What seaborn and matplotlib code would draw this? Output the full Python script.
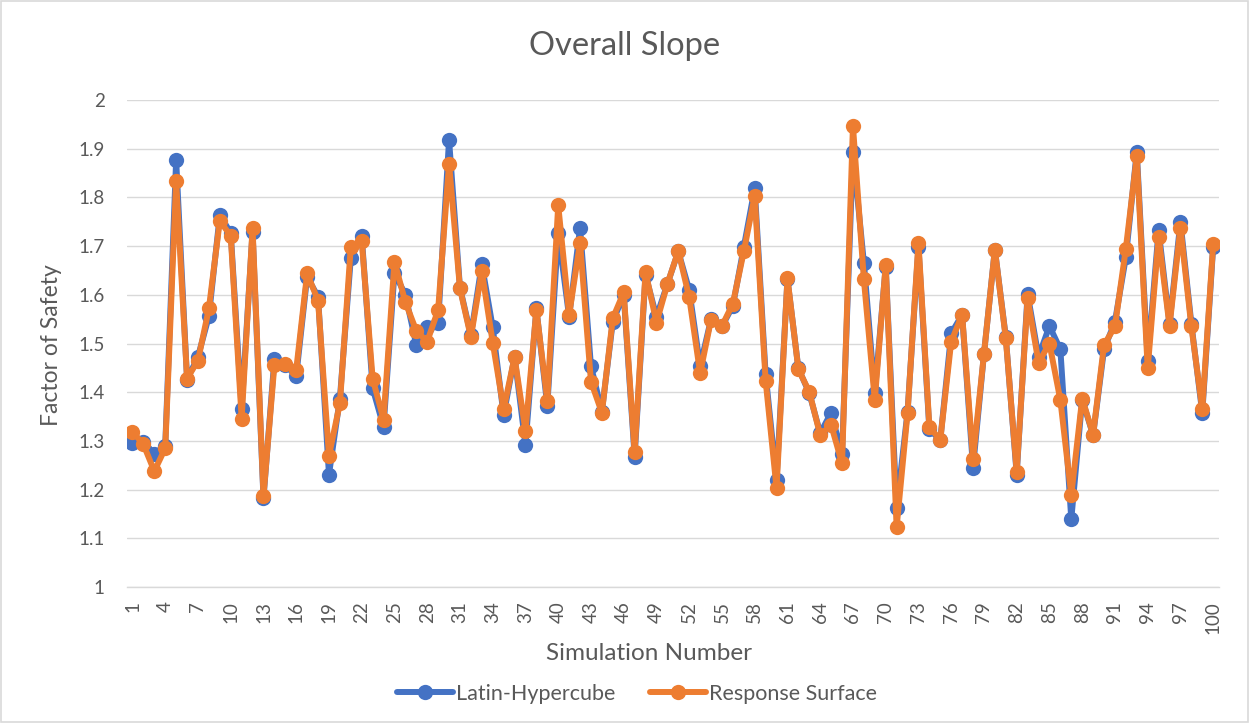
import numpy as np
import pandas as pd
import matplotlib
matplotlib.use("Agg")
import matplotlib.pyplot as plt
import seaborn as sns

# Factor of safety per simulation
sim_number = list(range(1, 101))

latin_hypercube = [
    1.296, 1.298, 1.274, 1.290, 1.877, 1.426, 1.473, 1.556, 1.764, 1.727,
    1.365, 1.730, 1.182, 1.468, 1.456, 1.433, 1.637, 1.596, 1.231, 1.387,
    1.675, 1.721, 1.408, 1.329, 1.645, 1.600, 1.497, 1.533, 1.543, 1.918,
    1.615, 1.517, 1.663, 1.533, 1.353, 1.473, 1.292, 1.572, 1.372, 1.727,
    1.555, 1.737, 1.454, 1.360, 1.545, 1.600, 1.268, 1.641, 1.555, 1.622,
    1.689, 1.610, 1.454, 1.550, 1.535, 1.577, 1.698, 1.819, 1.437, 1.220,
    1.632, 1.449, 1.398, 1.316, 1.358, 1.273, 1.894, 1.666, 1.398, 1.658,
    1.162, 1.360, 1.699, 1.324, 1.302, 1.521, 1.559, 1.245, 1.478, 1.693,
    1.514, 1.231, 1.602, 1.473, 1.536, 1.488, 1.139, 1.385, 1.312, 1.488,
    1.545, 1.677, 1.894, 1.465, 1.733, 1.541, 1.750, 1.541, 1.357, 1.699,
]

response_surface = [
    1.319, 1.293, 1.238, 1.285, 1.834, 1.428, 1.465, 1.572, 1.752, 1.721,
    1.346, 1.737, 1.187, 1.456, 1.458, 1.446, 1.644, 1.588, 1.270, 1.377,
    1.699, 1.711, 1.428, 1.344, 1.668, 1.585, 1.526, 1.504, 1.569, 1.869,
    1.613, 1.513, 1.649, 1.502, 1.365, 1.472, 1.321, 1.569, 1.383, 1.784,
    1.559, 1.707, 1.422, 1.358, 1.552, 1.605, 1.277, 1.647, 1.543, 1.622,
    1.690, 1.595, 1.439, 1.549, 1.536, 1.582, 1.689, 1.803, 1.424, 1.203,
    1.634, 1.447, 1.401, 1.312, 1.333, 1.254, 1.947, 1.632, 1.384, 1.661,
    1.123, 1.357, 1.707, 1.329, 1.302, 1.504, 1.559, 1.263, 1.478, 1.693,
    1.511, 1.237, 1.593, 1.461, 1.500, 1.384, 1.189, 1.387, 1.313, 1.497,
    1.535, 1.695, 1.884, 1.449, 1.719, 1.536, 1.738, 1.535, 1.365, 1.704,
]

series_names = ["Latin-Hypercube", "Response Surface"]
series_colors = ["#4472C4", "#ED7D31"]
y_ticks = [1, 1.1, 1.2, 1.3, 1.4, 1.5, 1.6, 1.7, 1.8, 1.9, 2]
y_tick_labels = ["1", "1.1", "1.2", "1.3", "1.4", "1.5", "1.6", "1.7", "1.8", "1.9", "2"]
x_ticks = list(range(1, 101, 3))

df = pd.DataFrame({
    "Simulation Number": sim_number * 2,
    "Factor of Safety": latin_hypercube + response_surface,
    "Method": [series_names[0]] * 100 + [series_names[1]] * 100,
})

sns.set_theme(style="white")
plt.rcParams["font.family"] = ["Lato", "DejaVu Sans"]
text_color = "#595959"
lw = 4.3
ms = 11

fig = plt.figure(figsize=(12.49, 7.23), dpi=100)
ax = fig.add_axes([0.1017, 0.188, 0.874, 0.6737])

sns.lineplot(
    data=df, x="Simulation Number", y="Factor of Safety", hue="Method",
    palette=dict(zip(series_names, series_colors)),
    marker="o", markersize=ms, markeredgewidth=0, linewidth=lw,
    legend=False, ax=ax,
)

ax.set_xlim(0.5, 100.5)
ax.set_ylim(1, 2)
ax.set_yticks(y_ticks)
ax.set_yticklabels(y_tick_labels)
ax.set_xticks(x_ticks)
ax.set_xticklabels([str(t) for t in x_ticks], rotation=90)
ax.tick_params(axis="both", colors=text_color, labelsize=13.5, length=0)
ax.tick_params(axis="y", pad=16)
ax.tick_params(axis="x", pad=10)
ax.yaxis.grid(True, color="#D9D9D9", linewidth=1)
ax.xaxis.grid(False)
for side in ["top", "right", "left"]:
    ax.spines[side].set_visible(False)
ax.spines["bottom"].set_color("#D9D9D9")
ax.spines["bottom"].set_linewidth(1)

ax.set_xlabel("")
ax.set_ylabel("")
fig.text(649 / 1249, 1 - 653 / 723, "Simulation Number", ha="center", va="center",
         fontsize=17.5, color=text_color)
fig.text(52 / 1249, 1 - 345 / 723, "Factor of Safety", ha="center", va="center",
         rotation=90, fontsize=16.5, color=text_color)
fig.text(0.5, 1 - 46 / 723, "Overall Slope", ha="center", va="center",
         fontsize=23.5, color=text_color)

handles = [
    plt.Line2D([], [], color=c, marker="o", markersize=ms, markeredgewidth=0, linewidth=lw)
    for c in series_colors
]
fig.legend(handles, series_names, loc="center", bbox_to_anchor=(637 / 1249, 1 - 694 / 723),
           ncol=2, frameon=False, fontsize=15.5, labelcolor=text_color,
           handlelength=2.6, columnspacing=1.6, handletextpad=0.15)

# light outer chart border
fig.patches.append(plt.Rectangle((0.001, 0.001), 0.998, 0.998, transform=fig.transFigure,
                                 fill=False, edgecolor="#D9D9D9", linewidth=1.2))

fig.savefig("out.png", dpi=100)
